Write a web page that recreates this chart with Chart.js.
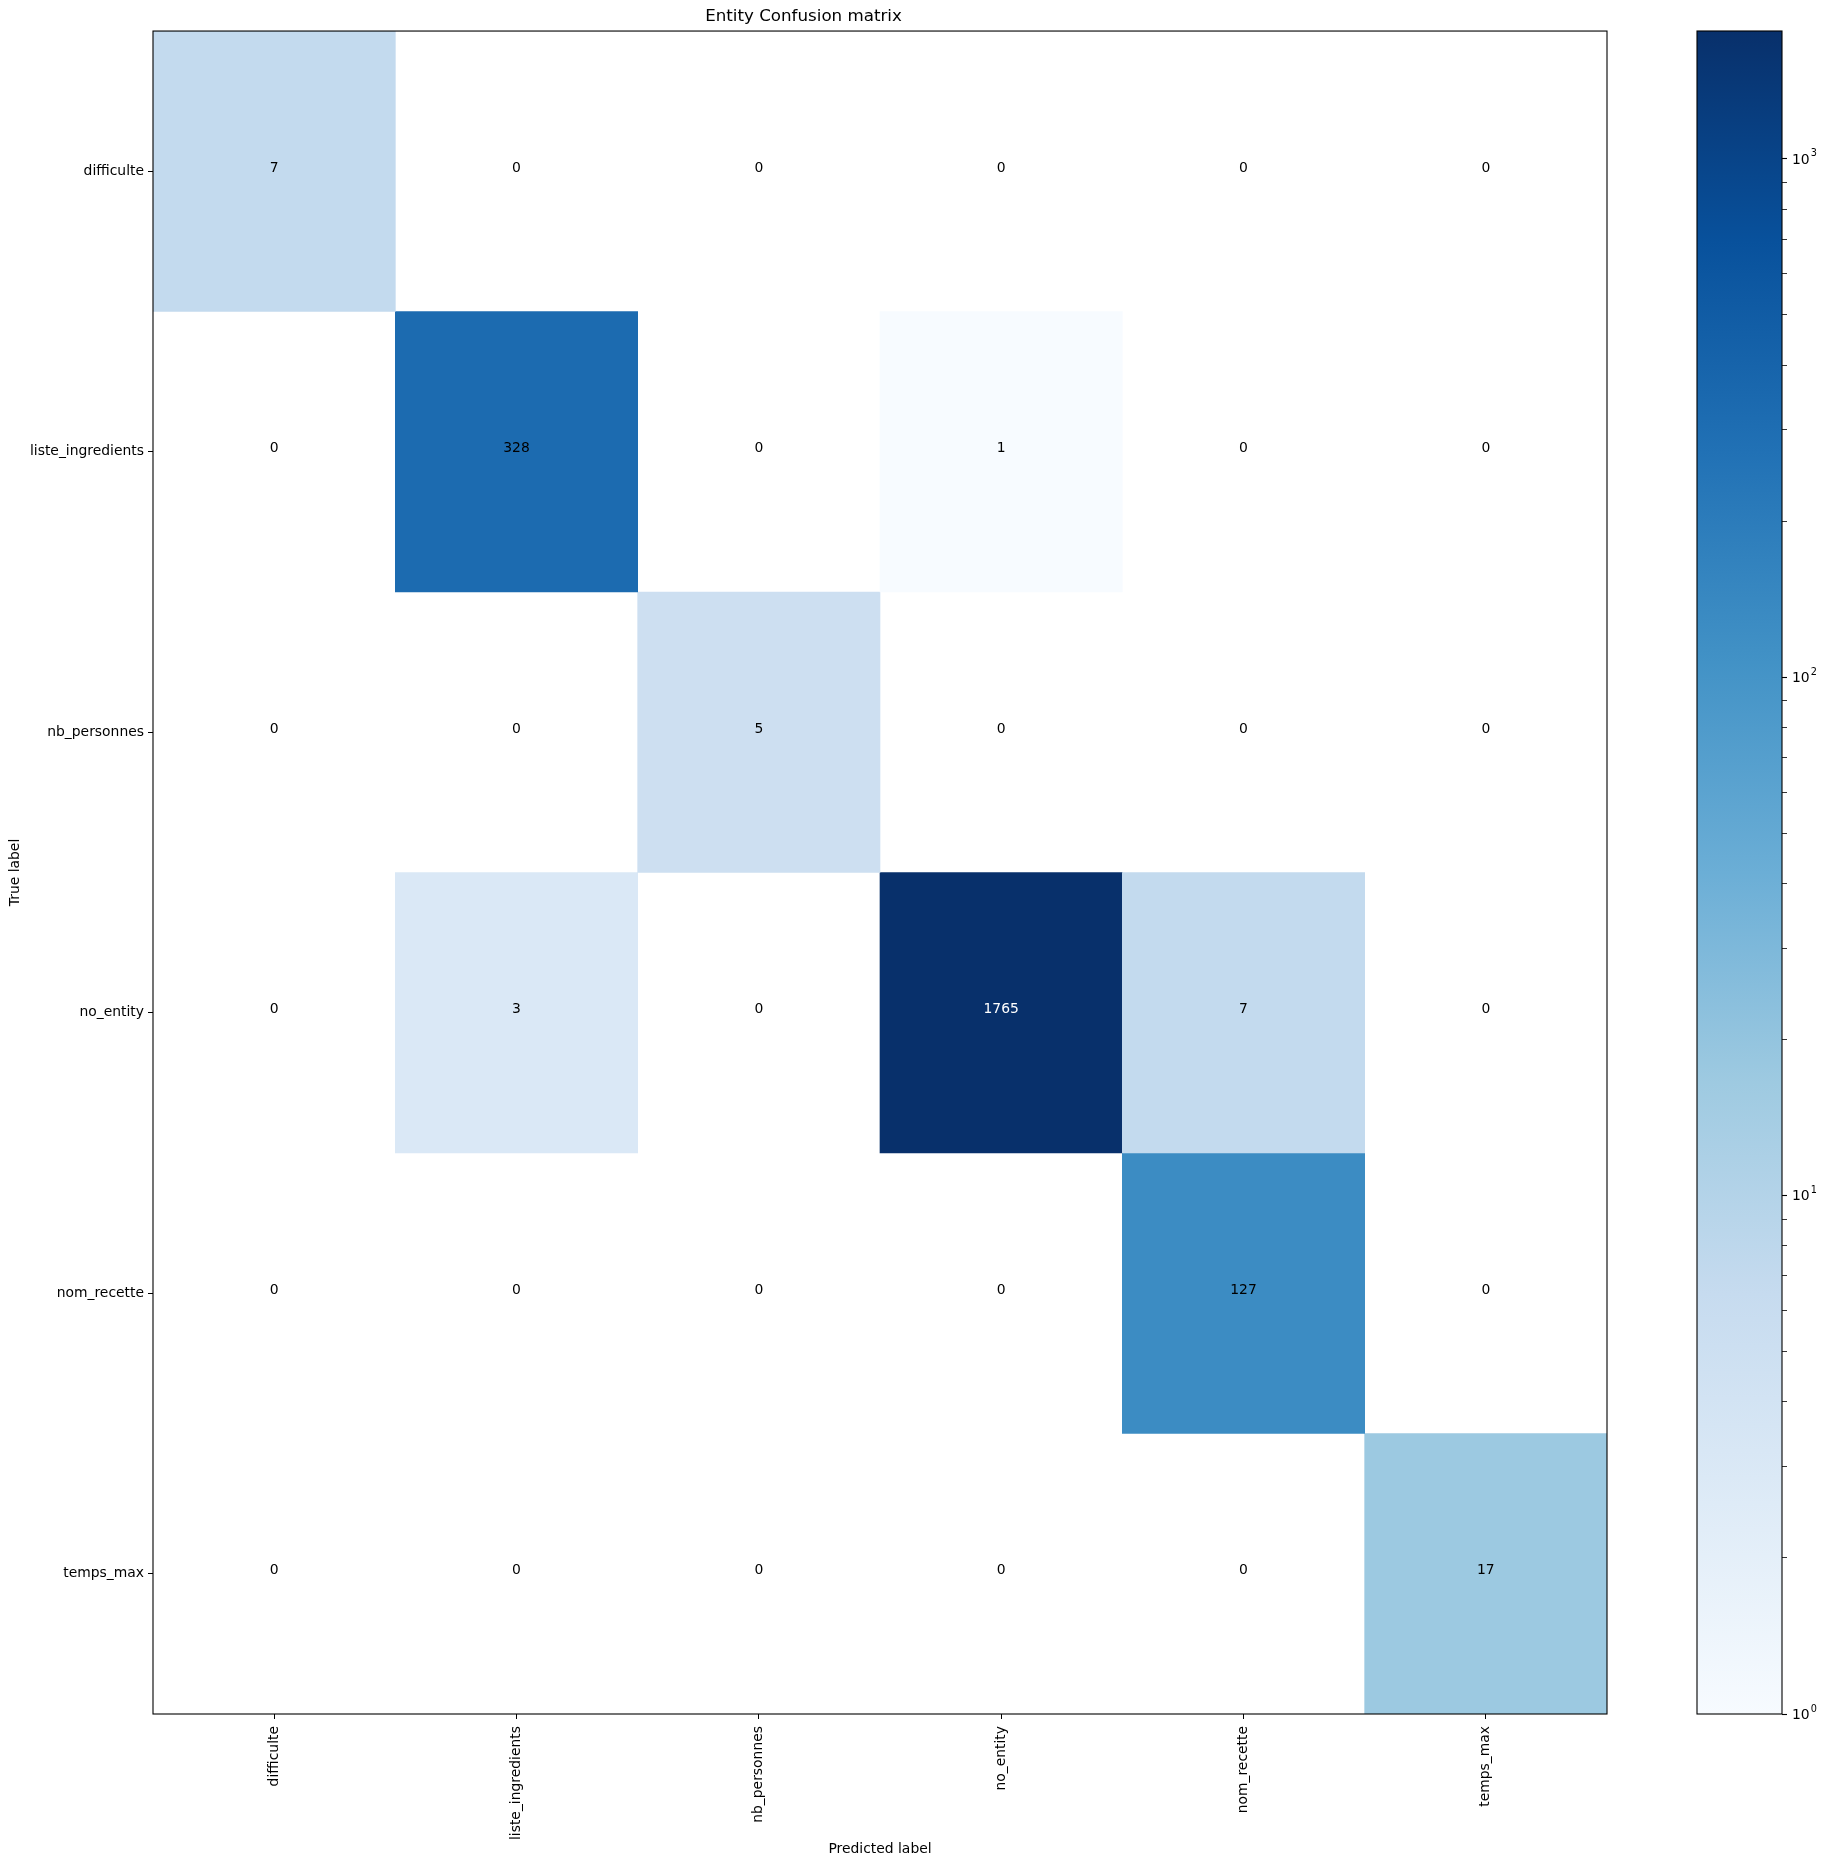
<!DOCTYPE html>
<html>
<head>
<meta charset="utf-8">
<title>Entity Confusion matrix</title>
<script src="https://cdn.jsdelivr.net/npm/chart.js@4.4.1/dist/chart.umd.min.js"></script>
<style>
  html, body { margin: 0; padding: 0; background: #fff; }
  #wrap { position: relative; width: 1825px; height: 1867px; overflow: hidden; }
  #matrix { position: absolute; left: 0; top: 0; width: 1760px; height: 1867px; }
  #cbar { position: absolute; left: 1690px; top: 0; width: 135px; height: 1867px; }
</style>
</head>
<body>
<div id="wrap">
  <canvas id="matrix" width="1760" height="1867"></canvas>
  <canvas id="cbar" width="135" height="1867"></canvas>
</div>
<script>
// labels (same order on both axes)
const predictedLabels = ["difficulte", "liste_ingredients", "nb_personnes", "no_entity", "nom_recette", "temps_max"];
const trueLabels = ["difficulte", "liste_ingredients", "nb_personnes", "no_entity", "nom_recette", "temps_max"];

// one array per true label row
const rowDifficulte = [7, 0, 0, 0, 0, 0];
const rowListeIngredients = [0, 328, 0, 1, 0, 0];
const rowNbPersonnes = [0, 0, 5, 0, 0, 0];
const rowNoEntity = [0, 3, 0, 1765, 7, 0];
const rowNomRecette = [0, 0, 0, 0, 127, 0];
const rowTempsMax = [0, 0, 0, 0, 0, 17];

// colorbar decade ticks
const colorbarDecades = [1, 10, 100, 1000];

const matrix = [rowDifficulte, rowListeIngredients, rowNbPersonnes, rowNoEntity, rowNomRecette, rowTempsMax];
const colorMax = Math.max(...matrix.flat());
const textThresh = colorMax / 2;

// matplotlib "Blues"
const bluesStops = ["#f7fbff", "#deebf7", "#c6dbef", "#9ecae1", "#6baed6", "#4292c6", "#2171b5", "#08519c", "#08306b"];

function hexToRgb(h) {
  return [parseInt(h.slice(1, 3), 16), parseInt(h.slice(3, 5), 16), parseInt(h.slice(5, 7), 16)];
}

// log norm between 1 and colorMax
function blues(v) {
  let t = Math.log(v) / Math.log(colorMax);
  t = Math.min(1, Math.max(0, t));
  const pos = t * (bluesStops.length - 1);
  const i = Math.min(Math.floor(pos), bluesStops.length - 2);
  const f = pos - i;
  const a = hexToRgb(bluesStops[i]);
  const b = hexToRgb(bluesStops[i + 1]);
  const c = a.map((ch, k) => Math.round(ch + (b[k] - ch) * f));
  return "rgb(" + c.join(",") + ")";
}

Chart.defaults.font.family = '"DejaVu Sans", sans-serif';
Chart.defaults.font.size = 13.9;
Chart.defaults.color = "#000";
Chart.defaults.animation = false;

// black box round the plot area
const frame = {
  id: "frame",
  afterDraw(chart) {
    const { ctx, chartArea: a } = chart;
    ctx.save();
    ctx.strokeStyle = "#000";
    ctx.lineWidth = 1.1;
    ctx.strokeRect(a.left, a.top, a.right - a.left, a.bottom - a.top);
    ctx.restore();
  }
};

// counts written in each cell
const cellText = {
  id: "cellText",
  afterDatasetsDraw(chart) {
    const { ctx, scales: { x, y } } = chart;
    ctx.save();
    ctx.font = '13.9px "DejaVu Sans"';
    ctx.textAlign = "center";
    ctx.textBaseline = "middle";
    matrix.forEach((row, i) => {
      row.forEach((v, j) => {
        ctx.fillStyle = v > textThresh ? "#fff" : "#000";
        ctx.fillText(String(v), x.getPixelForValue(j), y.getPixelForValue(i) - 3);
      });
    });
    ctx.restore();
  }
};

// 10^n labels with a real raised exponent
const powerLabels = {
  id: "powerLabels",
  afterDraw(chart) {
    const { ctx, chartArea: a, scales: { y } } = chart;
    ctx.save();
    ctx.fillStyle = "#000";
    ctx.textAlign = "left";
    ctx.textBaseline = "middle";
    colorbarDecades.forEach((d, i) => {
      const py = y.getPixelForValue(d);
      const px = a.right + 10;
      ctx.font = '13.9px "DejaVu Sans"';
      ctx.fillText("10", px, py + 1);
      const w = ctx.measureText("10").width;
      ctx.font = '9.7px "DejaVu Sans"';
      ctx.fillText(String(i), px + w + 1, py - 5);
    });
    ctx.restore();
  }
};

//--------------------------Matrix----------
const matrixDatasets = matrix.map((row, i) => ({
  label: trueLabels[i],
  data: row.map(() => [i - 0.5, i + 0.5]),
  backgroundColor: row.map((v) => (v > 0 ? blues(v) : "rgba(0,0,0,0)")),
  borderWidth: 0,
  grouped: false,
  barPercentage: 1,
  categoryPercentage: 1
}));

new Chart(document.getElementById("matrix"), {
  type: "bar",
  data: { labels: predictedLabels, datasets: matrixDatasets },
  options: {
    responsive: false,
    layout: { padding: { left: 0, right: 153, top: 0, bottom: 0 } },
    plugins: {
      legend: { display: false },
      tooltip: { enabled: false },
      title: {
        display: true,
        text: "Entity Confusion matrix",
        color: "#000",
        font: { size: 16.7, weight: "normal" },
        padding: { top: 7, bottom: 4 }
      }
    },
    scales: {
      x: {
        offset: true,
        grid: { offset: false, drawOnChartArea: false, tickLength: 5, tickColor: "#000" },
        border: { display: false },
        ticks: { autoSkip: false, minRotation: 90, maxRotation: 90, padding: 7, color: "#000" },
        title: { display: true, text: "Predicted label", color: "#000", padding: { top: 0, bottom: 9 } },
        afterFit: (axis) => { axis.height = 153; }
      },
      y: {
        type: "linear",
        min: -0.5,
        max: 5.5,
        reverse: true,
        grid: { drawOnChartArea: false, tickLength: 5, tickColor: "#000" },
        border: { display: false },
        afterBuildTicks: (axis) => { axis.ticks = trueLabels.map((_, i) => ({ value: i })); },
        ticks: { padding: 4, color: "#000", callback: (v) => trueLabels[v] },
        title: { display: true, text: "True label", color: "#000", padding: { top: 7, bottom: 0 } },
        afterFit: (axis) => { axis.width = 153; }
      }
    }
  },
  plugins: [cellText, frame]
});

//--------------------------Colorbar----------
new Chart(document.getElementById("cbar"), {
  type: "bar",
  data: {
    labels: [""],
    datasets: [{
      data: [[1, colorMax]],
      backgroundColor: (c) => {
        const area = c.chart.chartArea;
        if (!area) return null;
        const g = c.chart.ctx.createLinearGradient(0, area.bottom, 0, area.top);
        bluesStops.forEach((col, i) => g.addColorStop(i / (bluesStops.length - 1), col));
        return g;
      },
      borderWidth: 0,
      barPercentage: 1,
      categoryPercentage: 1
    }]
  },
  options: {
    responsive: false,
    layout: { padding: { left: 7, right: 0, top: 31, bottom: 153 } },
    plugins: { legend: { display: false }, tooltip: { enabled: false } },
    scales: {
      x: { display: false, offset: true },
      y: {
        type: "logarithmic",
        position: "right",
        min: 1,
        max: colorMax,
        grid: { drawOnChartArea: false, tickLength: 5, tickColor: "#000", tickWidth: (c) => (c.tick && c.tick.major ? 1.1 : 0.8) },
        border: { display: false },
        afterBuildTicks: (axis) => {
          const t = [];
          colorbarDecades.forEach((d) => {
            for (let k = 1; k <= 9; k++) {
              if (d * k <= colorMax) t.push({ value: d * k, major: k === 1 });
            }
          });
          axis.ticks = t;
        },
        ticks: { padding: 5, color: "#000", callback: () => "" },
        afterFit: (axis) => { axis.width = 43; }
      }
    }
  },
  plugins: [frame, powerLabels]
});
</script>
</body>
</html>
